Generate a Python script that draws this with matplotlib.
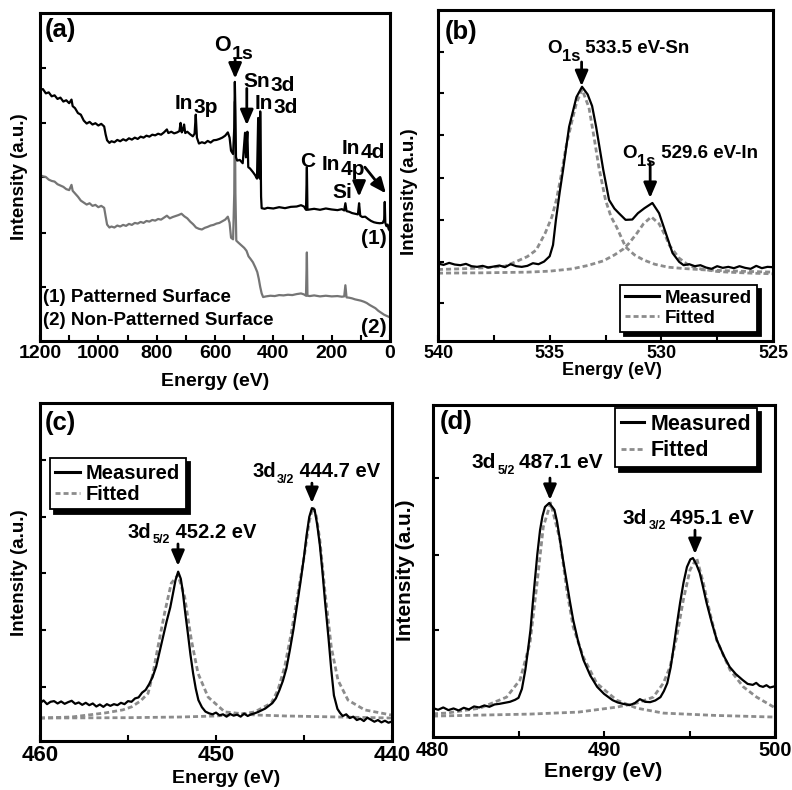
import matplotlib
matplotlib.use("Agg")
import matplotlib.pyplot as plt
from matplotlib.lines import Line2D

plt.rcParams['font.family'] = ['Liberation Sans', 'DejaVu Sans']
plt.rcParams['font.weight'] = 'bold'
plt.rcParams['axes.labelweight'] = 'bold'

# ---------------- Panel (a): survey spectra ----------------
a_E1 = [1200, 1190, 1180, 1170, 1160, 1150, 1140, 1130, 1120, 1110, 1100, 1092, 1088, 1080, 1070,
        1060, 1050, 1040, 1030, 1020, 1010, 1000, 990, 980, 975, 970, 962, 955, 945, 935, 925, 915,
        905, 895, 885, 875, 865, 855, 845, 835, 825, 815, 805, 795, 785, 775, 765, 760, 750, 740,
        730, 722, 718, 714, 710, 706, 702, 695, 685, 676, 670, 666, 662, 655, 645, 635, 625, 615,
        605, 595, 585, 575, 565, 556, 550, 545, 538, 534, 532, 530, 528, 524, 515, 505, 497, 494,
        489, 486, 480, 470, 462, 456, 452, 449, 446, 445, 442, 440, 430, 420, 400, 380, 360, 340,
        320, 305, 295, 288, 285, 283, 275, 260, 240, 220, 200, 180, 165, 157, 153, 149, 140, 130,
        120, 110, 106, 102, 95, 85, 75, 65, 55, 45, 35, 25, 20, 18, 16, 12, 8, 5, 2, 0]
a_I1 = [76.5, 76.8, 75.5, 75.8, 74.6, 74.9, 73.8, 74.2, 73.0, 73.4, 72.5, 73.6, 71.6, 71.0, 69.5,
        69.0, 67.2, 66.3, 66.8, 66.0, 66.4, 65.7, 66.2, 65.4, 63.0, 61.2, 60.4, 60.9, 60.6, 61.3,
        60.9, 61.5, 61.1, 61.8, 61.4, 62.0, 61.6, 62.3, 62.0, 62.6, 62.3, 62.9, 62.7, 63.2, 62.9,
        63.6, 64.5, 63.4, 63.8, 63.3, 63.6, 64.0, 66.5, 63.6, 64.3, 66.0, 63.4, 63.8, 63.0, 62.4,
        63.2, 69.0, 62.0, 60.2, 60.6, 60.3, 61.0, 60.5, 61.2, 61.3, 61.6, 62.0, 62.6, 63.6, 62.0,
        58.0, 57.0, 65.0, 79.0, 70.0, 56.0, 55.0, 55.2, 54.2, 63.5, 56.0, 63.8, 53.0, 52.6, 51.5,
        50.5, 49.5, 68.0, 50.0, 49.5, 70.0, 44.0, 40.5, 40.3, 40.6, 40.4, 40.8, 40.5, 40.9, 41.0,
        41.4, 41.0, 40.0, 53.0, 40.0, 40.1, 40.3, 40.0, 40.4, 40.1, 39.9, 40.2, 39.8, 42.0, 39.6,
        39.4, 39.0, 38.8, 38.6, 42.0, 38.2, 37.8, 37.9, 37.2, 36.6, 36.2, 36.0, 35.9, 36.0, 37.0,
        42.4, 36.0, 35.0, 35.5, 34.2, 33.8, 33.5]

a_E2 = [1200, 1190, 1180, 1170, 1160, 1150, 1140, 1130, 1120, 1110, 1100, 1092, 1088, 1080, 1070,
        1060, 1050, 1040, 1030, 1020, 1010, 1000, 990, 980, 975, 970, 962, 955, 945, 935, 925, 915,
        905, 895, 885, 875, 865, 855, 845, 835, 825, 815, 805, 795, 785, 775, 765, 755, 745, 735,
        725, 715, 705, 695, 685, 675, 665, 655, 645, 635, 625, 615, 605, 595, 585, 575, 565, 556,
        550, 545, 538, 534, 532, 530, 527, 520, 510, 500, 492, 485, 478, 470, 462, 455, 450, 445,
        440, 435, 425, 410, 395, 380, 365, 350, 335, 320, 305, 295, 288, 285, 283, 275, 260, 240,
        220, 200, 180, 165, 157, 153, 149, 140, 130, 120, 110, 100, 90, 80, 70, 60, 50, 40, 30,
        20, 10, 0]
a_I2 = [50.6, 50.2, 50.0, 49.2, 48.8, 48.6, 47.8, 47.4, 47.0, 46.3, 46.0, 47.6, 45.8, 45.0, 44.0,
        42.8, 42.2, 41.6, 42.0, 41.2, 41.5, 40.8, 41.2, 40.6, 38.0, 35.5, 34.6, 34.9, 34.6, 35.2,
        34.9, 35.4, 35.1, 35.7, 35.4, 36.0, 35.8, 36.3, 36.0, 36.6, 36.4, 36.9, 36.7, 37.2, 37.0,
        37.6, 38.2, 37.4, 37.8, 38.1, 38.4, 38.8, 38.0, 37.4, 36.4, 35.6, 34.6, 34.2, 34.0, 34.5,
        34.8, 35.2, 35.4, 35.8, 36.0, 36.5, 37.0, 37.9, 36.0, 31.5, 31.0, 45.0, 73.0, 45.0, 30.6,
        30.0, 29.2, 28.4, 27.5, 25.8, 25.0, 24.0, 22.5, 21.0, 19.0, 16.5, 14.5, 13.4, 13.6, 13.8,
        13.7, 14.0, 13.9, 14.1, 14.0, 14.3, 14.5, 14.2, 13.8, 27.0, 13.8, 13.7, 13.9, 13.6, 13.8,
        13.6, 13.7, 13.5, 13.6, 17.0, 13.3, 13.2, 13.0, 12.7, 12.5, 12.3, 12.0, 11.6, 11.0, 10.5,
        10.0, 9.2, 8.6, 8.0, 7.6, 7.2]

a_xticks = [1200, 1000, 800, 600, 400, 200, 0]
a_xminor = [1100, 900, 700, 500, 300, 100]
a_yticks = [16.5, 32.9, 50.0, 66.5, 83.2]

# ---------------- Panel (b): O 1s ----------------
b_E = [540.0, 539.75, 539.5, 539.25, 539.0, 538.75, 538.5, 538.25, 538.0, 537.75, 537.5, 537.25,
       537.0, 536.75, 536.5, 536.25, 536.0, 535.75, 535.5, 535.25, 535.0, 534.85, 534.72, 534.55,
       534.4, 534.13, 533.8, 533.55, 533.3, 533.1, 532.92, 532.6, 532.34, 532.1, 531.9, 531.6,
       531.3, 531.05, 530.76, 530.4, 530.1, 529.8, 529.5, 529.2, 529.0, 528.75, 528.5, 528.25,
       528.0, 527.75, 527.5, 527.25, 527.0, 526.75, 526.5, 526.25, 526.0, 525.75, 525.5, 525.25, 525.0]
b_meas = [23.4, 23.0, 23.6, 23.1, 22.9, 23.3, 22.6, 22.4, 22.7, 22.2, 22.5, 22.8,
          22.3, 23.2, 22.6, 22.4, 22.7, 23.5, 23.2, 24.0, 25.6, 29.0, 36.6, 45.0,
          51.7, 64.7, 73.7, 76.8, 74.5, 71.0, 64.7, 51.7, 42.6, 40.0, 38.6, 36.6,
          36.7, 38.6, 40.1, 41.7, 38.6, 32.6, 26.6, 23.9, 22.9, 23.2, 22.6, 22.9,
          22.2, 21.8, 22.6, 22.1, 22.4, 22.0, 22.6, 22.1, 21.8, 22.7, 22.0, 22.4, 22.3]
b_fit1_E = [540, 539, 538, 537, 536.5, 536, 535.6, 535.2, 534.9, 534.7, 534.5, 534.27, 534.0,
            533.8, 533.55, 533.24, 533.0, 532.8, 532.5, 532.25, 532.0, 531.6, 531.2, 530.8,
            530.3, 529.7, 529.0, 528.1, 527.0, 526.0, 525.0]
b_fit1 = [21.6, 21.8, 22.1, 22.6, 24.0, 25.5, 27.5, 32.6, 37.5, 42.6, 49.5, 58.6, 66.5,
          71.9, 76.0, 70.5, 61.0, 52.6, 42.6, 37.5, 34.4, 28.4, 26.0, 24.5,
          23.2, 22.3, 21.9, 21.5, 21.2, 21.0, 20.8]
b_fit2_E = [540, 538, 536, 535, 534, 533.3, 532.6, 532.1, 531.7, 531.45, 531.1, 530.8, 530.45,
            530.1, 529.8, 529.65, 529.2, 528.8, 528.45, 527.5, 527.0, 526.0, 525.0]
b_fit2 = [20.5, 20.6, 20.8, 21.1, 21.8, 22.8, 24.2, 26.0, 27.8, 29.5, 32.5, 35.4, 37.5,
          35.4, 31.5, 29.0, 25.0, 23.0, 22.0, 21.0, 20.8, 20.5, 20.3]
b_xticks = [540, 535, 530, 525]
b_xminor = [537.5, 532.5, 527.5]
b_yticks = [11.5, 23.9, 36.6, 49.2, 62.2, 74.9, 87.3]

# ---------------- Panel (c): In 3d ----------------
c_E = [460.0, 459.8, 459.6, 459.4, 459.2, 459.0, 458.8, 458.6, 458.4, 458.2, 458.0, 457.8, 457.6,
       457.4, 457.2, 457.0, 456.8, 456.6, 456.4, 456.2, 456.0, 455.8, 455.6, 455.4, 455.2, 455.0,
       454.8, 454.6, 454.4, 454.2, 454.0, 453.8, 453.6, 453.4, 453.2, 453.0, 452.8, 452.6, 452.45,
       452.3, 452.15, 452.0, 451.9, 451.75, 451.6, 451.45, 451.3, 451.15, 451.0, 450.8, 450.6,
       450.4, 450.2, 450.0, 449.8, 449.6, 449.4, 449.2, 449.0, 448.8, 448.6, 448.4, 448.2, 448.0,
       447.8, 447.6, 447.4, 447.2, 447.0, 446.8, 446.6, 446.4, 446.2, 446.0, 445.8, 445.6, 445.4,
       445.2, 445.0, 444.85, 444.7, 444.55, 444.4, 444.25, 444.1, 443.95, 443.8, 443.6, 443.45,
       443.3, 443.1, 442.95, 442.8, 442.6, 442.4, 442.2, 442.0, 441.8, 441.6, 441.4, 441.2, 441.0,
       440.8, 440.6, 440.4, 440.2, 440.0]
c_meas = [11.2, 12.0, 10.9, 11.6, 11.8, 11.1, 11.7, 11.0, 11.5, 11.9, 11.0, 11.4, 10.7,
          11.3, 10.6, 11.1, 10.2, 10.8, 10.1, 10.9, 10.4, 10.9, 10.6, 11.3, 10.9, 11.8,
          11.6, 12.6, 12.9, 14.3, 15.1, 16.8, 19.0, 22.0, 26.5, 31.0, 35.5, 39.5, 43.5,
          47.6, 50.1, 48.0, 44.7, 38.0, 31.9, 25.5, 20.0, 15.5, 12.1, 10.0, 8.7,
          8.2, 7.9, 8.4, 7.6, 7.9, 7.2, 8.0, 7.5, 7.8, 7.2, 8.1, 7.4, 7.9,
          8.2, 8.6, 9.1, 9.6, 10.4, 11.2, 12.6, 15.0, 17.8, 21.5, 27.0, 33.0, 40.0,
          47.0, 54.5, 61.0, 66.3, 68.9, 68.5, 64.0, 58.0, 50.0, 41.0, 30.0, 21.0,
          13.5, 9.5, 8.3, 7.4, 7.9, 6.8, 7.2, 6.2, 6.6, 5.9, 6.9, 6.3, 5.7,
          6.2, 5.5, 6.0, 5.4, 5.8]
c_fit1_E = [460, 458.2, 456.3, 455.3, 454.8, 454.3, 453.86, 453.6, 453.3, 452.92, 452.54, 452.16,
            451.78, 451.4, 451.02, 450.45, 449.5, 447.8, 446.0, 443.0, 440.0]
c_fit1 = [6.8, 7.1, 8.3, 9.2, 10.1, 11.8, 14.1, 19.5, 27.8, 37.9, 46.7, 49.1,
          42.6, 29.9, 20.0, 13.0, 8.6, 7.7, 7.4, 7.1, 6.8]
c_fit2_E = [460, 455, 452, 450, 448.5, 447.8, 446.86, 446.48, 446.1, 445.72, 445.34, 444.96,
            444.7, 444.5, 444.3, 444.1, 443.82, 443.45, 443.07, 442.5, 441.55, 440.05]
c_fit2 = [6.8, 6.9, 7.1, 7.4, 8.0, 8.6, 11.2, 15.1, 21.9, 32.0, 43.8, 55.6,
          65.0, 69.2, 66.5, 59.5, 44.7, 27.8, 18.0, 12.1, 9.2, 7.7]
c_xticks = [460, 450, 440]
c_xminor = [455, 445]
c_yticks = [16.0, 32.8, 49.7, 66.3, 83.1]

# ---------------- Panel (d): Sn 3d ----------------
d_E = [480.0, 480.3, 480.6, 480.9, 481.2, 481.5, 481.8, 482.1, 482.4, 482.7, 483.0, 483.3, 483.6,
       483.9, 484.2, 484.5, 484.8, 485.0, 485.2, 485.4, 485.55, 485.7, 485.83, 485.96, 486.1,
       486.26, 486.4, 486.55, 486.8, 487.1, 487.25, 487.4, 487.6, 487.8, 488.0, 488.2, 488.5,
       488.8, 489.2, 489.6, 490.0, 490.5, 490.8, 491.1, 491.5, 491.8, 492.1, 492.4, 492.7, 493.0,
       493.3, 493.5, 493.7, 493.9, 494.05, 494.25, 494.45, 494.65, 494.85, 495.05, 495.2, 495.4,
       495.6, 495.8, 496.0, 496.3, 496.6, 497.0, 497.35, 497.7, 498.1, 498.4, 498.7, 498.9, 499.1,
       499.3, 499.5, 499.7, 500.0]
d_meas = [8.7, 8.2, 8.9, 8.1, 8.6, 8.0, 8.8, 8.3, 9.2, 8.9, 9.5, 9.1, 9.8,
          10.0, 10.3, 10.6, 11.2, 11.8, 14.5, 20.2, 26.0, 32.2, 40.0, 47.3, 55.0,
          62.3, 66.5, 69.3, 70.5, 68.4, 65.0, 60.2, 53.5, 47.3, 41.0, 35.2, 28.5,
          23.2, 18.5, 15.1, 13.0, 11.1, 10.4, 10.0, 9.6, 10.2, 11.4, 10.6, 10.5, 11.0,
          12.0, 13.8, 16.2, 21.0, 26.2, 33.5, 40.4, 46.5, 51.2, 53.5, 53.9, 52.0,
          49.4, 45.0, 40.4, 34.5, 29.2, 24.5, 21.1, 19.0, 17.2, 16.0, 15.7, 16.3, 15.4,
          15.1, 15.6, 14.9, 15.3]
d_fit1_E = [480.0, 480.8, 482.75, 484.3, 485.09, 485.67, 486.06, 486.45, 486.88, 487.43, 487.82,
            488.2, 488.79, 489.57, 490.74, 491.91, 493.47, 496.5, 500.0]
d_fit1 = [7.0, 7.2, 8.7, 12.0, 17.2, 28.3, 45.2, 63.3, 70.5, 59.3, 44.3,
          33.1, 24.1, 16.2, 11.1, 8.7, 7.2, 6.5, 6.0]
d_fit2_E = [480.0, 485.67, 488.5, 490.74, 491.91, 492.88, 493.47, 493.86, 494.25, 494.64, 495.03,
            495.42, 495.81, 496.2, 496.59, 497.37, 498.15, 498.93, 500.0]
d_fit2 = [6.3, 6.9, 7.5, 9.0, 10.2, 12.0, 16.2, 21.1, 30.1, 41.3, 50.3,
          53.9, 46.4, 37.3, 29.2, 20.2, 15.1, 12.0, 8.8]
d_xticks = [480, 490, 500]
d_xminor = [485, 495]
d_yticks = [32.2, 54.8, 78.0]

# ---------------- styling ----------------
MEAS_C = 'black'
GREY_C = '#757575'
FIT_C = '#8c8c8c'
FIT_LS = (0, (1.8, 1.1))
PANEL_FS = 18.5

fig = plt.figure(figsize=(7.92, 7.90), dpi=100)
axA = fig.add_axes([40 / 792, 1 - 341 / 790, 350 / 792, 328 / 790])
axB = fig.add_axes([438 / 792, 1 - 341 / 790, 335 / 792, 331 / 790])
axC = fig.add_axes([40 / 792, 1 - 741 / 790, 352 / 792, 338 / 790])
axD = fig.add_axes([433 / 792, 1 - 737 / 790, 342 / 792, 332 / 790])


def style(ax, xlim, xticks, xminor, yticks, xl_pos, yl_x, yl_y, tick_fs, xl_fs, yl_fs):
    ax.set_xlim(*xlim)
    ax.set_ylim(0, 100)
    ax.set_xticks(xticks)
    ax.set_xticks(xminor, minor=True)
    ax.set_xticklabels([str(t) for t in xticks])
    ax.set_yticks(yticks)
    ax.set_yticklabels([])
    ax.tick_params(axis='both', which='both', direction='in', length=4, width=1.5,
                   top=False, right=False, labelsize=tick_fs, pad=3)
    for lab in ax.get_xticklabels():
        lab.set_fontweight('bold')
    for s in ax.spines.values():
        s.set_linewidth(2.2)
    ax.set_xlabel('Energy (eV)', fontsize=xl_fs, fontweight='bold')
    ax.set_ylabel('Intensity (a.u.)', fontsize=yl_fs, fontweight='bold')
    ax.xaxis.set_label_coords(*xl_pos)
    ax.yaxis.set_label_coords(yl_x, yl_y)


def arrow(ax, x, y_tail, y_tip, x_tail=None):
    ax.annotate('', xy=(x, y_tip), xytext=(x if x_tail is None else x_tail, y_tail),
                arrowprops=dict(arrowstyle='-|>,head_width=0.3,head_length=0.7', lw=2,
                                color='black', shrinkA=0, shrinkB=0, mutation_scale=13))


def sub_label(ax, x, y, main, sub, rest='', size=13.5, subsize=11.5, drop=4, gap=0.5,
              rest_gap=0):
    t1 = ax.text(x, y, main, fontsize=size, fontweight='bold', ha='left', va='bottom')
    t2 = ax.annotate(sub, xy=(1, 0), xycoords=t1, xytext=(gap, -drop),
                     textcoords='offset points', fontsize=subsize, fontweight='bold',
                     ha='left', va='bottom')
    if rest:
        ax.annotate(rest, xy=(1, 0), xycoords=(t2, t1), xytext=(rest_gap, 0),
                    textcoords='offset points', fontsize=size, fontweight='bold',
                    ha='left', va='bottom')


def legend(ax, fs, hl, loc, anchor, lsp):
    handles = [Line2D([], [], color=MEAS_C, lw=2.2),
               Line2D([], [], color=FIT_C, lw=2, ls=FIT_LS)]
    leg = ax.legend(handles, ['Measured', 'Fitted'], loc=loc, bbox_to_anchor=anchor,
                    fontsize=fs, fancybox=False, framealpha=1, edgecolor='black',
                    handlelength=hl, handletextpad=0.3, borderpad=0.28, labelspacing=lsp,
                    borderaxespad=0, shadow={'ox': 3, 'oy': -3, 'color': 'black', 'alpha': 1})
    leg.get_frame().set_linewidth(1.3)
    return leg


# ---- (a)
axA.plot(a_E2, a_I2, color=GREY_C, lw=1.6)
axA.plot(a_E1, a_I1, color=MEAS_C, lw=1.6)
style(axA, (1200, 0), a_xticks, a_xminor, a_yticks, (0.5, -0.098), -0.034, 0.5, 14, 14, 13.5)
axA.text(0.014, 0.985, '(a)', transform=axA.transAxes, fontsize=PANEL_FS, fontweight='bold',
         ha='left', va='top')
sub_label(axA, 602, 86.8, 'O', '1s', size=15.5, subsize=14, drop=4.5, gap=0.3)
arrow(axA, 531, 85.8, 80.0)
sub_label(axA, 503, 76.2, 'Sn', '3d', size=15, subsize=15, drop=2.5, gap=0.3)
arrow(axA, 491, 77.0, 65.8)
sub_label(axA, 465, 69.6, 'In', '3d', size=15, subsize=15, drop=3, gap=0.3)
sub_label(axA, 737, 69.6, 'In', '3p', size=15, subsize=15, drop=3, gap=0.3)
axA.text(308, 51.8, 'C', fontsize=15, fontweight='bold', ha='left', va='bottom')
sub_label(axA, 233, 50.8, 'In', '4p', size=15, subsize=15, drop=3, gap=0.3)
arrow(axA, 106, 47.6, 44.0)
sub_label(axA, 165, 55.7, 'In', '4d', size=15, subsize=15, drop=3, gap=0.3)
arrow(axA, 14, 53.0, 45.0, x_tail=86)
axA.text(199, 42.3, 'Si', fontsize=15, fontweight='bold', ha='left', va='bottom')
axA.text(10, 28.5, '(1)', fontsize=15, fontweight='bold', ha='right', va='bottom')
axA.text(10, 1.1, '(2)', fontsize=15, fontweight='bold', ha='right', va='bottom')
axA.text(1190, 10.7, '(1) Patterned Surface', fontsize=13.5, fontweight='bold',
         ha='left', va='bottom')
axA.text(1190, 3.7, '(2) Non-Patterned Surface', fontsize=13.5, fontweight='bold',
         ha='left', va='bottom')

# ---- (b)
axB.plot(b_fit1_E, b_fit1, color=FIT_C, lw=2, ls=FIT_LS)
axB.plot(b_fit2_E, b_fit2, color=FIT_C, lw=2, ls=FIT_LS)
axB.plot(b_E, b_meas, color=MEAS_C, lw=1.6)
style(axB, (540, 525), b_xticks, b_xminor, b_yticks, (0.52, -0.063), -0.06, 0.45, 13, 13, 13.5)
axB.text(0.021, 0.97, '(b)', transform=axB.transAxes, fontsize=PANEL_FS, fontweight='bold',
         ha='left', va='top')
sub_label(axB, 535.13, 85.8, 'O', '1s', ' 533.5 eV-Sn', size=13.5, subsize=12, drop=5)
arrow(axB, 533.57, 84.3, 77.0)
sub_label(axB, 531.76, 54.1, 'O', '1s', ' 529.6 eV-In', size=13.5, subsize=12, drop=5)
arrow(axB, 530.5, 53.8, 43.2)
legend(axB, 13.5, 1.8, 'lower right', (0.952, 0.027), 0.15)

# ---- (c)
axC.plot(c_fit1_E, c_fit1, color=FIT_C, lw=2, ls=FIT_LS)
axC.plot(c_fit2_E, c_fit2, color=FIT_C, lw=2, ls=FIT_LS)
axC.plot(c_E, c_meas, color=MEAS_C, lw=1.6)
style(axC, (460, 440), c_xticks, c_xminor, c_yticks, (0.53, -0.086), -0.034, 0.497, 16, 14, 13.5)
axC.text(0.014, 0.975, '(c)', transform=axC.transAxes, fontsize=PANEL_FS, fontweight='bold',
         ha='left', va='top')
sub_label(axC, 447.95, 76.8, '3d', '3/2', ' 444.7 eV', size=14.5, subsize=9, drop=3, gap=0.8)
arrow(axC, 444.55, 76.3, 70.4)
sub_label(axC, 455.0, 59.0, '3d', '5/2', ' 452.2 eV', size=14.5, subsize=9, drop=3, gap=0.8)
arrow(axC, 452.16, 58.3, 51.8)
legend(axC, 14.5, 1.2, 'upper left', (0.028, 0.837), 0.1)

# ---- (d)
axD.plot(d_fit1_E, d_fit1, color=FIT_C, lw=2, ls=FIT_LS)
axD.plot(d_fit2_E, d_fit2, color=FIT_C, lw=2, ls=FIT_LS)
axD.plot(d_E, d_meas, color=MEAS_C, lw=1.6)
style(axD, (480, 500), d_xticks, d_xminor, d_yticks, (0.497, -0.075), -0.053, 0.503, 14.5, 15.3, 15)
axD.text(0.02, 0.985, '(d)', transform=axD.transAxes, fontsize=PANEL_FS, fontweight='bold',
         ha='left', va='top')
sub_label(axD, 482.28, 79.7, '3d', '5/2', '487.1 eV', size=15, subsize=9, drop=3, gap=0.8,
          rest_gap=3)
arrow(axD, 486.84, 78.0, 71.4)
sub_label(axD, 491.11, 63.1, '3d', '3/2', '495.1 eV', size=15, subsize=9, drop=3, gap=0.8,
          rest_gap=3)
arrow(axD, 495.32, 62.3, 55.1)
legend(axD, 15.5, 1.05, 'upper right', (0.947, 0.991), 0.25)

fig.savefig('out.png', dpi=100)
